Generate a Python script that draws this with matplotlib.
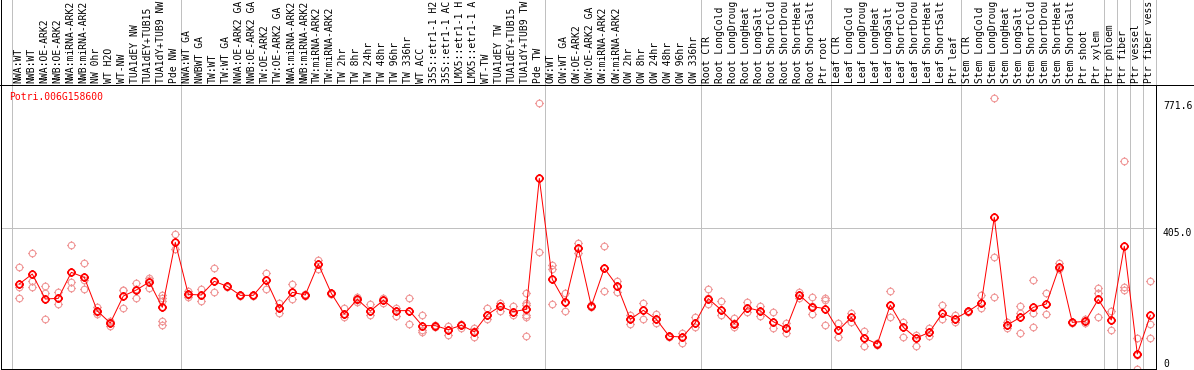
import matplotlib
matplotlib.use("Agg")
import matplotlib.pyplot as plt
from matplotlib.path import Path
from matplotlib.lines import Line2D
import numpy as np

gene = "Potri.006G158600"

categories = [
    "NWA:WT", "NWB:WT", "NWA:OE-ARK2", "NWB:OE-ARK2", "NWA:miRNA-ARK2", "NWB:miRNA-ARK2",
    "NW 0hr", "WT H2O", "WT-NW", "TUA1dEY NW", "TUA1dEY+TUB15", "TUA1dY+TUB9 NW", "Pde NW",
    "NWA:WT GA", "NWBWT GA", "TW:WT", "TW:WT GA", "NWA:OE-ARK2 GA", "NWB:OE-ARK2 GA",
    "TW:OE-ARK2", "TW:OE-ARK2 GA", "NWA:miRNA-ARK2", "NWB:miRNA-ARK2", "TW:miRNA-ARK2",
    "TW:miRNA-ARK2", "TW 2hr", "TW 8hr", "TW 24hr", "TW 48hr", "TW 96hr", "TW 336hr",
    "WT ACC", "35S::etr1-1 H2", "35S::etr1-1 AC", "LMX5::etr1-1 H", "LMX5::etr1-1 A",
    "WT-TW", "TUA1dEY TW", "TUA1dEY+TUB15", "TUA1dY+TUB9 TW", "Pde TW",
    "OW:WT", "OW:WT GA", "OW:OE-ARK2", "OW:OE-ARK2 GA", "OW:miRNA-ARK2", "OW:miRNA-ARK2",
    "OW 2hr", "OW 8hr", "OW 24hr", "OW 48hr", "OW 96hr", "OW 336hr",
    "Root CTR", "Root LongCold", "Root LongDroug", "Root LongHeat", "Root LongSalt",
    "Root ShortCold", "Root ShortDrou", "Root ShortHeat", "Root ShortSalt", "Ptr root",
    "Leaf CTR", "Leaf LongCold", "Leaf LongDroug", "Leaf LongHeat", "Leaf LongSalt",
    "Leaf ShortCold", "Leaf ShortDrou", "Leaf ShortHeat", "Leaf ShortSalt", "Ptr leaf",
    "Stem CTR", "Stem LongCold", "Stem LongDroug", "Stem LongHeat", "Stem LongSalt",
    "Stem ShortCold", "Stem ShortDrou", "Stem ShortHeat", "Stem ShortSalt", "Ptr shoot",
    "Ptr xylem", "Ptr phloem", "Ptr fiber", "Ptr vessel", "Ptr fiber vess",
]

means = [
    244.7, 273.5, 201.5, 203.4, 278.2, 263.8, 167, 132.4, 210, 227.4, 250.4, 177.5, 364.6,
    214.9, 213, 252.4, 238, 212, 212, 255.2, 174.6, 220.7, 213, 302.2, 217.8, 158.3, 200.5,
    167, 197.6, 168, 168, 124.8, 124.8, 113.3, 125.7, 107.5, 156.4, 180.4, 165, 171.8, 548.8,
    258.1, 191.9, 347.3, 181.3, 289.8, 238.9, 143, 168.9, 143, 94.1, 92.1, 133.4,
    202.5, 169.8, 130.5, 176.6, 167, 136.2, 117.1, 213, 179.5, 173.7,
    111.3, 148.7, 89.2, 72, 184.2, 120, 89.2, 105.6, 160.2, 144.9,
    166, 190.9, 436.6, 126.7, 148.7, 177.5, 187.1, 294.6, 134.3, 137.2,
    200.5, 141, 353.1, 43.2, 154.5,
]

replicates = [
    [293, 235, 203], [333, 252, 235], [238, 218, 144], [221, 203, 186], [357, 251, 232],
    [304, 256, 229], [178, 165, 158], [139, 134, 124], [227, 228, 175], [248, 229, 205],
    [263, 256, 232], [212, 204, 197, 139, 127], [389, 345],
    [225, 213, 208], [229, 213, 197], [290, 252, 221], [240, 238, 236], [214, 212, 210],
    [214, 212, 210], [275, 255, 231], [191, 175, 160], [244, 221, 201], [215, 213, 211],
    [314, 302, 287], [220, 216, 217], [175, 158, 149], [208, 200, 194], [187, 167, 155],
    [205, 198, 190], [177, 168, 153], [203, 168, 129], [154, 112, 107], [128, 124, 122],
    [125, 113, 98], [130, 126, 117], [117, 108, 91], [175, 156, 144], [191, 180, 168],
    [181, 165, 154], [220, 191, 183, 172, 155, 151, 95], [765, 336],
    [299, 287, 187], [220, 192, 167], [364, 347, 335], [184, 181, 178], [354, 290, 225],
    [253, 239, 222], [155, 143, 130], [189, 169, 143], [157, 143, 133], [96, 94, 92],
    [105, 92, 74], [149, 133, 122],
    [229, 203, 187], [197, 170, 155], [147, 131, 120], [194, 177, 163], [181, 167, 153],
    [163, 136, 117], [133, 117, 105], [222, 213, 203], [206, 180, 158], [204, 199, 127],
    [133, 111, 93], [160, 149, 136], [110, 89, 67], [74, 72, 70], [225, 184, 151],
    [134, 120, 92], [98, 89, 66], [117, 106, 95], [183, 160, 143], [155, 145, 134],
    [168, 166, 164], [213, 191, 177], [779, 322, 206], [136, 127, 117], [181, 162, 103],
    [256, 160, 120], [220, 187, 158], [306, 292, 289], [136, 134, 133], [143, 137, 131],
    [232, 218, 149], [167, 141, 112], [599, 235, 227], [88, 41, 1], [252, 130, 88],
]

group_starts = [0, 13, 41, 53, 63, 73, 84, 85, 86, 87, 88]
ytick_vals = [0, 405.0, 771.6]
ytick_text = ["0", "405.0", "771.6"]

# ---------------------------------------------------------------
W, H = 1194, 370
fig = plt.figure(figsize=(W / 100, H / 100), dpi=100)
ax_l, ax_r, ax_t, ax_b = 1, 1156, 85, 369
ax = fig.add_axes([ax_l / W, (H - ax_b) / H, (ax_r - ax_l) / W, (ax_b - ax_t) / H])

px_per_cat = 13.0
first_center = 19.3
ax.set_xlim((ax_l - first_center) / px_per_cat, (ax_r - first_center) / px_per_cat)
px_per_unit = (ax_b - 228.3) / 405.0
ax.set_ylim(0, (ax_b - ax_t) / px_per_unit)

PX = 0.72  # one pixel in points
grey = "#c0c0c0"
mono = "DejaVu Sans Mono"

# custom circle marker with small ticks
circ = Path.unit_circle()
r0, r1 = 1.0, 1.35
ticks = Path(
    [(0, r0), (0, r1), (0, -r0), (0, -r1), (r0, 0), (r1, 0), (-r0, 0), (-r1, 0)],
    [Path.MOVETO, Path.LINETO] * 4,
)
mk = Path.make_compound_path(circ, ticks)

# horizontal grid line
ax.axhline(405.0, color=grey, lw=PX, zorder=1)

# vertical separators (extend through label area)
ytop = ax_b / (ax_b - ax_t)
for k in group_starts:
    ax.plot([k - 0.58, k - 0.58], [0, ytop], transform=ax.get_xaxis_transform(),
            color=grey, lw=PX, clip_on=False, zorder=1)

x = np.arange(len(categories))
# replicates
for i, reps in enumerate(replicates):
    ax.plot([i] * len(reps), reps, linestyle="none", marker=mk, markersize=6.4,
            markerfacecolor="none", markeredgecolor="#f09a9a", markeredgewidth=0.8,
            zorder=2)
# mean line + markers
ax.plot(x, means, color="#ff0000", lw=PX, zorder=3)
ax.plot(x, means, linestyle="none", marker=mk, markersize=6.4,
        markerfacecolor="none", markeredgecolor="#ff0000", markeredgewidth=1.2, zorder=4)

# category labels on top
ax.xaxis.tick_top()
ax.set_xticks(x - 0.1)
ax.set_xticklabels(categories, rotation=90, fontsize=7, family=mono, va="bottom")
ax.tick_params(axis="x", length=0, pad=1.4)

# y labels on right
ax.yaxis.tick_right()
ax.set_yticks(ytick_vals)
ax.set_yticklabels(ytick_text, fontsize=7, family=mono)
ax.tick_params(axis="y", length=0, pad=5)
for lab, v in zip(ax.get_yticklabels(), ytick_vals):
    if v == 0:
        lab.set_va("bottom")
        lab.set_y(v)
    else:
        lab.set_va("top")

for s in ax.spines.values():
    s.set_color("black")
    s.set_linewidth(PX)

# title
ax.text((9.5 - ax_l) / (ax_r - ax_l), (ax_b - 97) / (ax_b - ax_t), gene,
        transform=ax.transAxes, color="#ff0000", fontsize=7, family=mono,
        va="center", ha="left")

# frame lines outside the axes
fig.add_artist(Line2D([0, 1], [(H - ax_t) / H] * 2, color="black", lw=PX,
                      transform=fig.transFigure))
fig.add_artist(Line2D([1.2 / W] * 2, [(H - ax_b) / H, 1], color="black", lw=PX,
                      transform=fig.transFigure))

fig.savefig("out.png", dpi=100)
